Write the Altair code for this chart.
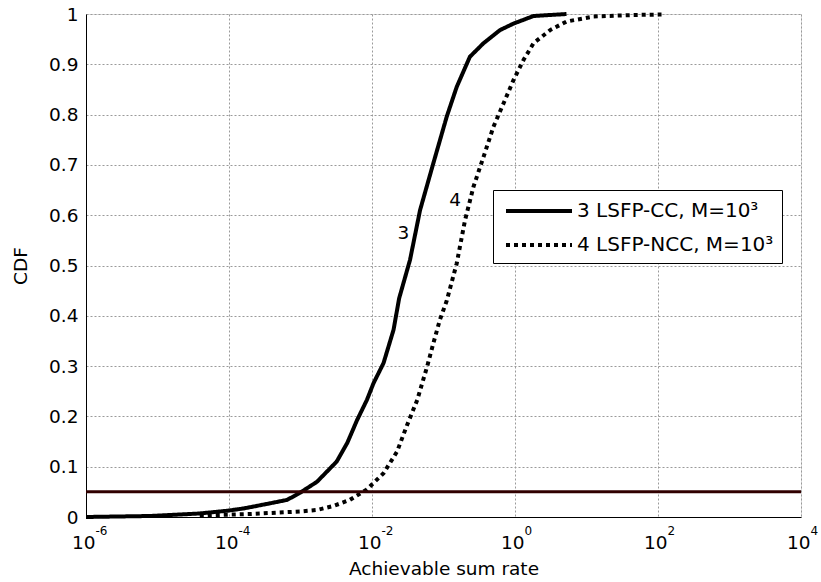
import json
import altair as alt
import pandas as pd

# ---- data ----
cc_rate = [1e-6, 7.9e-6, 3.9e-5, 9.5e-5, 1.6e-4, 3.4e-4, 6.5e-4, 9.8e-4, 1.7e-3, 3.2e-3,
           4.5e-3, 6.2e-3, 8.5e-3, 1.05e-2, 1.45e-2, 2.0e-2, 2.4e-2, 3.4e-2, 4.7e-2, 7.2e-2,
           0.111, 0.153, 0.234, 0.363, 0.617, 0.955, 1.82, 5.25]
cc_cdf = [0.0, 0.002, 0.007, 0.0125, 0.017, 0.026, 0.034, 0.048, 0.07, 0.11,
          0.147, 0.193, 0.233, 0.266, 0.306, 0.372, 0.435, 0.511, 0.61, 0.703,
          0.796, 0.855, 0.915, 0.942, 0.968, 0.981, 0.996, 1.0]

ncc_rate = [3.9e-5, 1.95e-4, 9.8e-4, 1.7e-3, 2.9e-3, 4.9e-3, 8.5e-3, 1.45e-2, 2.24e-2, 3.1e-2,
            4.3e-2, 5.9e-2, 7.2e-2, 8.9e-2, 0.111, 0.153, 0.2, 0.263, 0.363, 0.5,
            0.69, 0.955, 1.32, 1.82, 3.1, 5.25, 12.6, 45.7, 112.0]
ncc_cdf = [0.003, 0.006, 0.011, 0.014, 0.022, 0.034, 0.055, 0.087, 0.13, 0.183,
           0.233, 0.299, 0.345, 0.392, 0.43, 0.504, 0.59, 0.657, 0.716, 0.776,
           0.822, 0.869, 0.909, 0.942, 0.968, 0.985, 0.995, 0.998, 0.999]

series_names = ["3 LSFP-CC, M=10\u00b3", "4 LSFP-NCC, M=10\u00b3"]
threshold = [0.05]

curve_tags = ["3", "4"]
curve_tag_x = [0.0275, 0.145]
curve_tag_y = [0.565, 0.63]

x_ticks = [1e-6, 1e-4, 1e-2, 1.0, 1e2, 1e4]
x_exponents = ["-6", "-4", "-2", "0", "2", "4"]
y_ticks = [0.0, 0.1, 0.2, 0.3, 0.4, 0.5, 0.6, 0.7, 0.8, 0.9, 1.0]

# ---- tables ----
df_lines = pd.concat([
    pd.DataFrame({"rate": cc_rate, "cdf": cc_cdf, "series": series_names[0]}),
    pd.DataFrame({"rate": ncc_rate, "cdf": ncc_cdf, "series": series_names[1]}),
], ignore_index=True)
df_rule = pd.DataFrame({"y": threshold})
df_tags = pd.DataFrame({"tag": curve_tags, "rate": curve_tag_x, "cdf": curve_tag_y})

FONT = "DejaVu Sans"
FS = 18.5

xscale = alt.Scale(type="log", domain=[1e-6, 1e4], nice=False)
yscale = alt.Scale(domain=[0, 1], nice=False, zero=False)

yaxis = alt.Axis(values=y_ticks, format=".1~f", ticks=False, labelPadding=8,
                 labelFont=FONT, labelFontSize=FS, labelColor="black", labelFlush=False,
                 grid=True, gridColor="#9a9a9a", gridDash=[2, 2], gridWidth=1,
                 domainColor="black", domainWidth=1,
                 title="CDF", titleFont=FONT, titleFontSize=FS, titleFontWeight="normal",
                 titleColor="black", titlePadding=18)

xaxis_main = alt.Axis(values=x_ticks, labelExpr="'10'", labelAlign="right", labelOffset=9,
                      labelPadding=16, ticks=False, labelFont=FONT, labelFontSize=FS,
                      labelColor="black", labelFlush=False, labelOverlap=False,
                      grid=True, gridColor="#9a9a9a", gridDash=[2, 2], gridWidth=1,
                      domainColor="black", domainWidth=1,
                      title="Achievable sum rate", titleFont=FONT, titleFontSize=FS,
                      titleFontWeight="normal", titleColor="black", titlePadding=8,
                      orient="bottom")

exp_expr = "%s[round(log(datum.value) / LN10 / 2) + 3]" % json.dumps(x_exponents)
xaxis_exp = alt.Axis(values=x_ticks, labelExpr=exp_expr, labelAlign="left", labelOffset=9,
                     labelPadding=8, ticks=False, labelFont=FONT, labelFontSize=12,
                     labelColor="black", labelFlush=False, labelOverlap=False,
                     grid=False, domain=False, title=None, orient="bottom")

legend = alt.Legend(title=None, orient="none", legendX=407, legendY=176, direction="vertical",
                    symbolType="M-3,0H3", symbolSize=484, symbolStrokeWidth=4,
                    symbolStrokeColor="black", symbolOffset=25, labelOffset=25,
                    labelFont=FONT, labelFontSize=20, labelColor="black", labelLimit=500,
                    labelExpr="datum.label + '\u00a0\u00a0'",
                    strokeColor="black", fillColor="white", padding=8, rowPadding=11)

lines = alt.Chart(df_lines).mark_line(color="black", strokeWidth=4, strokeCap="butt").encode(
    x=alt.X("rate:Q", scale=xscale, axis=xaxis_main),
    y=alt.Y("cdf:Q", scale=yscale, axis=yaxis),
    strokeDash=alt.StrokeDash("series:N",
                              scale=alt.Scale(domain=series_names, range=[[1, 0], [4, 4]]),
                              legend=legend),
    order=alt.Order("rate:Q"),
)

rule = alt.Chart(df_rule).mark_rule(color="#300000", strokeWidth=3).encode(
    y=alt.Y("y:Q", scale=yscale, axis=yaxis),
)

tags = alt.Chart(df_tags).mark_text(font=FONT, fontSize=FS, color="black",
                                    align="center", baseline="middle").encode(
    x=alt.X("rate:Q", scale=xscale, axis=xaxis_exp),
    y=alt.Y("cdf:Q", scale=yscale, axis=yaxis),
    text="tag:N",
)

chart = alt.layer(lines, rule, tags).resolve_axis(x="independent").properties(
    width=715, height=503,
    padding={"left": 86, "top": 14, "right": 20, "bottom": 65},
    autosize=alt.AutoSizeParams(type="none"),
    background="white",
).configure_view(stroke="black", strokeWidth=1).configure(font=FONT)

chart.save("out.html", embed_options={"renderer": "svg", "actions": False})
